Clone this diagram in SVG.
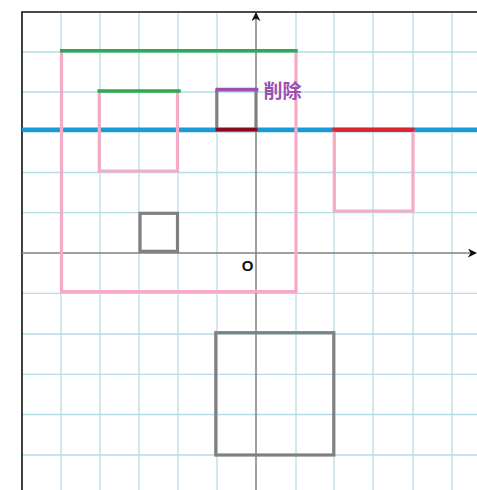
<svg xmlns="http://www.w3.org/2000/svg" width="477" height="490" viewBox="0 0 477 490">
  <style>
    .grid line { stroke: #b5dde6; stroke-width: 1.3; }
    .axis { stroke: #808080; stroke-width: 1.5; fill: none; }
    .pink { stroke: #f5aac6; stroke-width: 3.2; fill: none; }
    .gray { stroke: #808080; stroke-width: 3.2; fill: none; }
    .green { stroke: #2fa84f; stroke-width: 3.6; }
    .blue { stroke: #1a9bd8; stroke-width: 4.5; }
    .red { stroke: #d8252f; stroke-width: 4; }
    .darkred { stroke: #8a0a1c; stroke-width: 3.6; }
    .purple { stroke: #9b50b0; stroke-width: 3.6; }
    .lbl { font-family: "Noto Sans CJK SC", "Noto Sans CJK JP", sans-serif; font-weight: bold; }
  </style>
  <defs>
    <marker id="arr" viewBox="0 0 10 10" refX="9" refY="5" markerWidth="9" markerHeight="9" markerUnits="userSpaceOnUse" orient="auto">
      <path d="M0,0 L10,5 L0,10 L3,5 Z" fill="#111"/>
    </marker>
  </defs>
  <rect x="0" y="0" width="477" height="490" fill="#ffffff"/>
  <g id="grid" class="grid">
    <line x1="61" y1="12" x2="61" y2="490"/>
    <line x1="100" y1="12" x2="100" y2="490"/>
    <line x1="139" y1="12" x2="139" y2="490"/>
    <line x1="178" y1="12" x2="178" y2="490"/>
    <line x1="217" y1="12" x2="217" y2="490"/>
    <line x1="296" y1="12" x2="296" y2="490"/>
    <line x1="334" y1="12" x2="334" y2="490"/>
    <line x1="373" y1="12" x2="373" y2="490"/>
    <line x1="413" y1="12" x2="413" y2="490"/>
    <line x1="452" y1="12" x2="452" y2="490"/>
    <line x1="22" y1="52" x2="477" y2="52"/>
    <line x1="22" y1="92" x2="477" y2="92"/>
    <line x1="22" y1="132" x2="477" y2="132"/>
    <line x1="22" y1="172.5" x2="477" y2="172.5"/>
    <line x1="22" y1="212.7" x2="477" y2="212.7"/>
    <line x1="22" y1="293.3" x2="477" y2="293.3"/>
    <line x1="22" y1="334" x2="477" y2="334"/>
    <line x1="22" y1="374.3" x2="477" y2="374.3"/>
    <line x1="22" y1="414.5" x2="477" y2="414.5"/>
    <line x1="22" y1="455" x2="477" y2="455"/>
  </g>
  <g id="frame">
    <path d="M22,490 L22,12 L477,12" fill="none" stroke="#111" stroke-width="1.6"/>
  </g>
  <g id="axes">
    <line class="axis" x1="22" y1="253" x2="476" y2="253" marker-end="url(#arr)"/>
    <line class="axis" x1="256" y1="490" x2="256" y2="13" marker-end="url(#arr)"/>
    <text x="247.5" y="270.5" font-family="Liberation Sans, Arial, sans-serif" font-weight="bold" font-size="15" text-anchor="middle" fill="#111">O</text>
  </g>
  <g id="blue-line">
    <line class="blue" x1="22" y1="129.7" x2="477" y2="129.7"/>
  </g>
  <g id="big-pink-rect">
    <path class="pink" d="M61.5,50.7 L61.5,291.7 L296,291.7 L296,50.7"/>
    <line class="green" x1="60" y1="50.7" x2="297.7" y2="50.7"/>
  </g>
  <g id="small-pink-rect">
    <path class="pink" d="M99.3,91 L99.3,171 L177.5,171 L177.5,91"/>
    <line class="green" x1="97.5" y1="91" x2="180.7" y2="91"/>
  </g>
  <g id="right-pink-rect">
    <path class="pink" d="M334.3,130 L334.3,211 L413,211 L413,130"/>
    <line class="red" x1="332.5" y1="129.7" x2="414.5" y2="129.7"/>
  </g>
  <g id="small-gray-square">
    <rect class="gray" x="140" y="213.3" width="37.5" height="38"/>
  </g>
  <g id="deleted-square">
    <line class="gray" x1="216.8" y1="89.5" x2="216.8" y2="129.5"/>
    <line class="gray" x1="256" y1="89.5" x2="256" y2="129.5"/>
    <line class="purple" x1="215.5" y1="89.6" x2="258.3" y2="89.6"/>
    <line class="darkred" x1="215.5" y1="129.5" x2="257.5" y2="129.5"/>
    <text class="lbl" x="263.5" y="98" font-size="19" fill="#9b50b0">削除</text>
  </g>
  <g id="large-gray-rect">
    <rect class="gray" x="215.8" y="332.7" width="118" height="122.3"/>
  </g>
</svg>
